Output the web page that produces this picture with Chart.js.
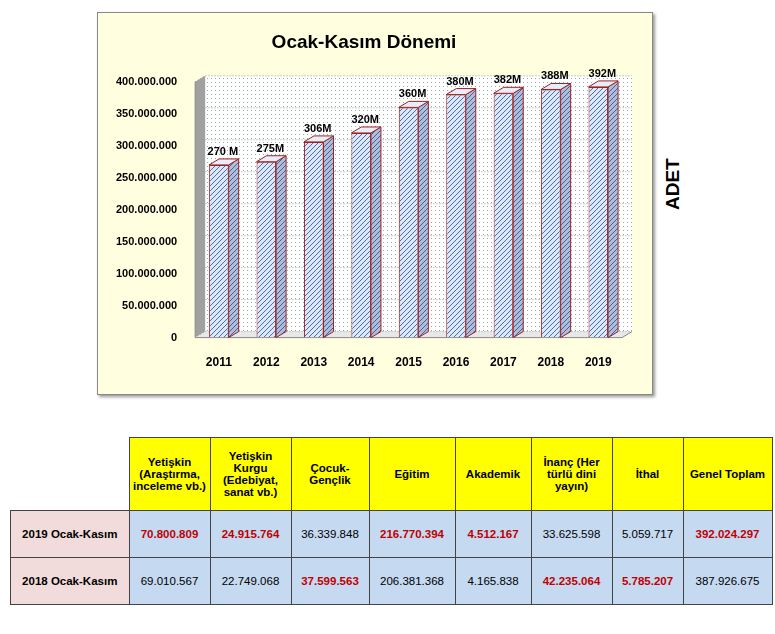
<!DOCTYPE html>
<html><head><meta charset="utf-8">
<script src="https://cdn.jsdelivr.net/npm/chart.js@4"></script>
<style>
body{margin:0;background:#fff;font-family:"Liberation Sans",Arial,sans-serif;}
#box{position:absolute;left:97px;top:12px;width:554px;height:381px;background:#ffffe0;border:1px solid #888;box-shadow:2px 2px 3px #999;}
#adet{position:absolute;left:662px;top:170px;width:40px;height:60px;font:bold 19px "Liberation Sans",Arial;}
#adet span{position:absolute;left:0;top:40px;transform:rotate(-90deg);transform-origin:left top;white-space:nowrap;}
table{position:absolute;left:10px;top:437px;width:753px;table-layout:fixed;border-collapse:collapse;font:bold 11.5px "Liberation Sans",Arial;}
td{border:1px solid #444;text-align:center;padding:0;}
.h{background:#ffff00;height:72px;}
.r td{height:46px;background:#c5d9f1;font-weight:normal;}
.r td.l{background:#f2dcdb;font-weight:bold;}
.r td.red{color:#c00000;font-weight:bold;}
</style></head><body>
<div id="box"><canvas id="c" width="554" height="381"></canvas></div>
<div id="adet"><span>ADET</span></div>
<table id="t"></table>
<script>
const years = ['2011','2012','2013','2014','2015','2016','2017','2018','2019'];
const totals = [270e6,275e6,306e6,320e6,360e6,380e6,382e6,388e6,392e6];
const barLabels = ['270 M','275M','306M','320M','360M','380M','382M','388M','392M'];
const headers = ['Yetişkin (Araştırma, inceleme vb.)','Yetişkin Kurgu (Edebiyat, sanat vb.)','Çocuk-Gençlik','Eğitim','Akademik','İnanç (Her türlü dini yayın)','İthal','Genel Toplam'];
const row2019 = ['70.800.809','24.915.764','36.339.848','216.770.394','4.512.167','33.625.598','5.059.717','392.024.297'];
const row2018 = ['69.010.567','22.749.068','37.599.563','206.381.368','4.165.838','42.235.064','5.785.207','387.926.675'];
const red2019 = [1,1,0,1,1,0,0,1];
const red2018 = [0,0,1,0,0,1,1,0];
const colW = [118,80,80,77,85,75,80,70,88];

// table
const t = document.getElementById('t');
let h = '<tr>' + colW.map((w,i)=> i===0 ? `<td style="width:${w}px;border:none;background:#fff"></td>` : `<td class="h" style="width:${w}px">${headers[i-1]}</td>`).join('') + '</tr>';
h += '<tr class="r"><td class="l">2019 Ocak-Kasım</td>' + row2019.map((v,i)=>`<td class="${red2019[i]?'red':''}">${v}</td>`).join('') + '</tr>';
h += '<tr class="r"><td class="l">2018 Ocak-Kasım</td>' + row2018.map((v,i)=>`<td class="${red2018[i]?'red':''}">${v}</td>`).join('') + '</tr>';
t.innerHTML = h;

// hatch pattern
const pc = document.createElement('canvas'); pc.width = 5; pc.height = 5;
const p = pc.getContext('2d');
p.fillStyle = '#dde8f7'; p.fillRect(0,0,5,5);
p.strokeStyle = '#4a6fb0'; p.lineWidth = 1;
p.beginPath(); p.moveTo(0,5); p.lineTo(5,0); p.moveTo(-1,1); p.lineTo(1,-1); p.moveTo(4,6); p.lineTo(6,4); p.stroke();
const ctx0 = document.getElementById('c').getContext('2d');
const hatch = ctx0.createPattern(pc,'repeat');
// dotted wall
const dc = document.createElement('canvas'); dc.width = 4; dc.height = 4;
const d = dc.getContext('2d'); d.fillStyle = '#fff'; d.fillRect(0,0,4,4); d.fillStyle = '#9aa'; d.fillRect(1,1,1,1);
const dots = ctx0.createPattern(dc,'repeat');

const DX = 10, DY = -6;
const wall = {
  id:'wall',
  beforeDatasetsDraw(chart){
    const {ctx, chartArea:a, scales:{y}} = chart;
    ctx.save();
    // back wall
    ctx.fillStyle = dots; ctx.fillRect(a.left+DX, a.top+DY, a.right-a.left, a.bottom-a.top);
    // left wall
    ctx.fillStyle = '#a0a0a0';
    ctx.beginPath(); ctx.moveTo(a.left,a.top); ctx.lineTo(a.left+DX,a.top+DY); ctx.lineTo(a.left+DX,a.bottom+DY); ctx.lineTo(a.left,a.bottom); ctx.closePath(); ctx.fill();
    // floor
    ctx.fillStyle = '#e8e8e8';
    ctx.beginPath(); ctx.moveTo(a.left,a.bottom); ctx.lineTo(a.left+DX,a.bottom+DY); ctx.lineTo(a.right+DX,a.bottom+DY); ctx.lineTo(a.right,a.bottom); ctx.closePath(); ctx.fill();
    ctx.strokeStyle = '#999'; ctx.setLineDash([1,2]); ctx.lineWidth = 1;
    y.ticks.forEach(tk=>{
      const yy = y.getPixelForValue(tk.value);
      ctx.beginPath(); ctx.moveTo(a.left,yy); ctx.lineTo(a.left+DX,yy+DY); ctx.lineTo(a.right+DX,yy+DY); ctx.stroke();
    });
    ctx.setLineDash([]);
    ctx.strokeStyle = '#888';
    ctx.beginPath(); ctx.moveTo(a.left,a.top); ctx.lineTo(a.left,a.bottom); ctx.lineTo(a.right,a.bottom); ctx.lineTo(a.right+DX,a.bottom+DY); ctx.stroke();
    ctx.restore();
  },
  afterDatasetsDraw(chart){
    const {ctx} = chart;
    const meta = chart.getDatasetMeta(0);
    ctx.save();
    meta.data.forEach((b,i)=>{
      const l = b.x - b.width/2, r = b.x + b.width/2, top = b.y, bot = b.base;
      ctx.strokeStyle = '#a02020'; ctx.lineWidth = 1;
      // side
      ctx.fillStyle = hatch;
      ctx.beginPath(); ctx.moveTo(r,top); ctx.lineTo(r+DX,top+DY); ctx.lineTo(r+DX,bot+DY); ctx.lineTo(r,bot); ctx.closePath(); ctx.fill();
      ctx.fillStyle = 'rgba(40,60,120,0.25)'; ctx.fill(); ctx.stroke();
      // top
      ctx.fillStyle = '#e6eefa';
      ctx.beginPath(); ctx.moveTo(l,top); ctx.lineTo(l+DX,top+DY); ctx.lineTo(r+DX,top+DY); ctx.lineTo(r,top); ctx.closePath(); ctx.fill(); ctx.stroke();
      ctx.fillStyle = '#000'; ctx.font = 'bold 11px "Liberation Sans", Arial'; ctx.textAlign = 'center';
      ctx.fillText(barLabels[i], b.x + 4, top + DY - 4);
    });
    ctx.restore();
  }
};

new Chart(ctx0, {
  type:'bar',
  data:{labels:years, datasets:[{data:totals, backgroundColor:hatch, borderColor:'#a02020', borderWidth:1, categoryPercentage:0.75, barPercentage:0.55}]},
  options:{
    responsive:false, animation:false,
    layout:{padding:{left:8,right:30,top:2,bottom:14}},
    plugins:{legend:{display:false}, tooltip:{enabled:false},
      title:{display:true, text:'Ocak-Kasım Dönemi', color:'#000', font:{size:19, weight:'bold', family:'"Liberation Sans", Arial'}, padding:{top:16,bottom:28}}},
    scales:{
      x:{grid:{display:false}, border:{display:false}, ticks:{color:'#000', font:{size:12, weight:'bold'}, padding:10}},
      y:{min:0, max:400e6, grid:{display:false}, border:{display:false},
         ticks:{stepSize:50e6, color:'#000', font:{size:11, weight:'bold'}, padding:10, callback:v=>v.toLocaleString('de-DE')}}
    }
  },
  plugins:[wall]
});
</script>
</body></html>
